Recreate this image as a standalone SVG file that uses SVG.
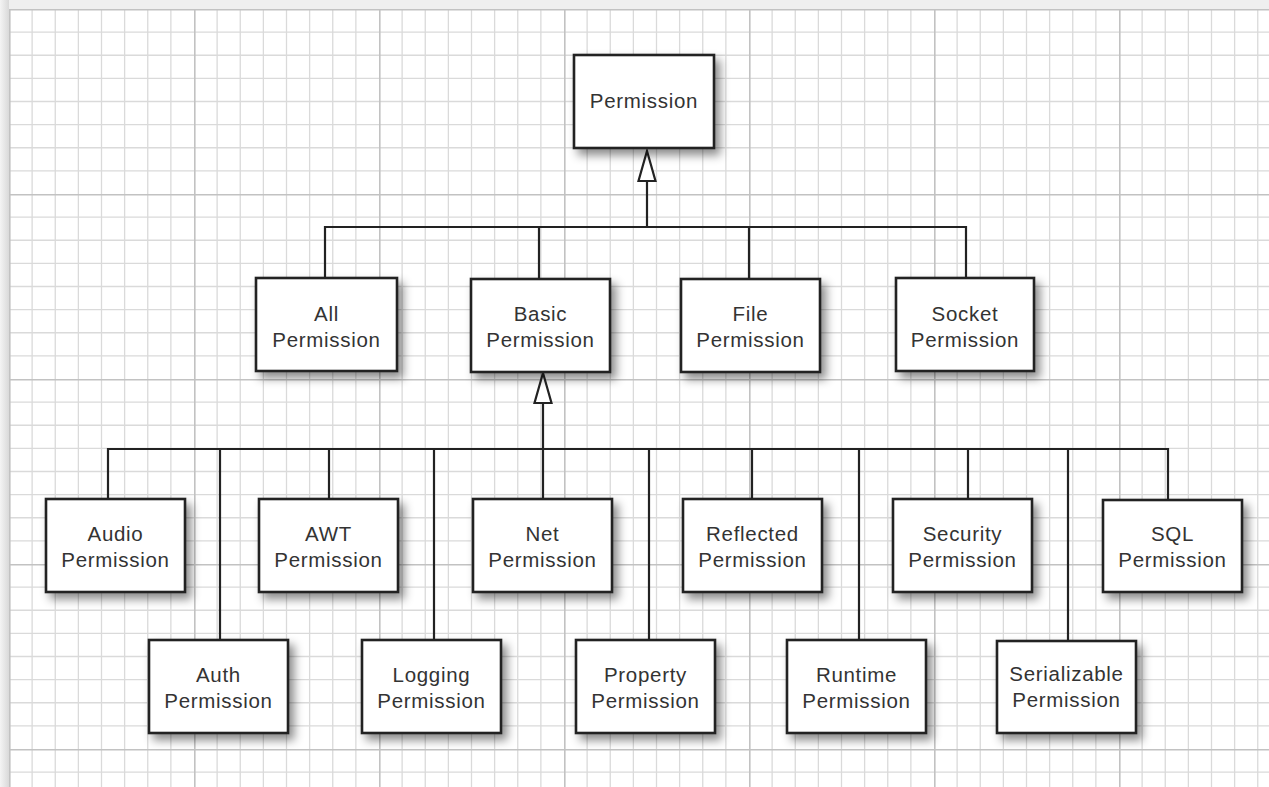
<svg xmlns="http://www.w3.org/2000/svg" width="1269" height="787" viewBox="0 0 1269 787">
<defs>
<pattern id="grid" x="9" y="9" width="185" height="185" patternUnits="userSpaceOnUse">
<path d="M23.125 0V185M46.25 0V185M69.375 0V185M92.5 0V185M115.625 0V185M138.75 0V185M161.875 0V185M0 23.125H185M0 46.25H185M0 69.375H185M0 92.5H185M0 115.625H185M0 138.75H185M0 161.875H185" stroke="#dadada" stroke-width="1.3" fill="none"/>
<path d="M0.7 0V185M0 0.7H185" stroke="#c2c2c2" stroke-width="1.8" fill="none"/>
</pattern>
<linearGradient id="lg" x1="0" y1="0" x2="1" y2="0">
<stop offset="0" stop-color="#f4f4f4"/><stop offset="1" stop-color="#d9d9d9"/>
</linearGradient>
<filter id="sh" x="-20%" y="-20%" width="150%" height="160%">
<feDropShadow dx="5" dy="6" stdDeviation="5" flood-color="#000" flood-opacity="0.45"/>
</filter>
</defs>
<style>
.box{fill:#fff;stroke:#222;stroke-width:2.6;filter:url(#sh)}
.t{font-family:"Liberation Sans",Arial,sans-serif;font-size:20.5px;fill:#333;text-anchor:middle;letter-spacing:0.7px}
.c{stroke:#222;stroke-width:2.2;fill:none}
.a{stroke:#222;stroke-width:2.2;fill:#fff;stroke-linejoin:miter}
</style>
<rect width="1269" height="787" fill="#efefef"/>
<rect x="0" y="0" width="9" height="787" fill="url(#lg)"/>
<rect x="9" y="9" width="1260" height="778" fill="#fff"/>
<rect x="9" y="9" width="1260" height="778" fill="url(#grid)"/>

<g id="connectors">
<path class="c" d="M647 181V227M325 278V227H966V278M539 227V279M749 227V279"/>
<path class="a" d="M647 151L655.5 181H638.5Z"/>
<path class="c" d="M543 403V499M108 499V449H1168V500M220 449V640M329 449V499M434 449V640M649 449V640M752 449V499M859 449V640M968 449V499M1068 449V641"/>
<path class="a" d="M543 373L551.5 403H534.5Z"/>
</g>

<g id="n-permission"><rect class="box" x="574" y="55" width="140" height="93"/><text class="t" x="644" y="108">Permission</text></g>

<g id="n-all"><rect class="box" x="256" y="278" width="141" height="93"/><text class="t" x="326.5" y="321">All</text><text class="t" x="326.5" y="347">Permission</text></g>
<g id="n-basic"><rect class="box" x="471" y="279" width="139" height="93"/><text class="t" x="540.5" y="321">Basic</text><text class="t" x="540.5" y="347">Permission</text></g>
<g id="n-file"><rect class="box" x="681" y="279" width="139" height="93"/><text class="t" x="750.5" y="321">File</text><text class="t" x="750.5" y="347">Permission</text></g>
<g id="n-socket"><rect class="box" x="896" y="278" width="138" height="93"/><text class="t" x="965" y="321">Socket</text><text class="t" x="965" y="347">Permission</text></g>

<g id="n-audio"><rect class="box" x="46" y="499" width="139" height="93"/><text class="t" x="115.5" y="541">Audio</text><text class="t" x="115.5" y="567">Permission</text></g>
<g id="n-awt"><rect class="box" x="259" y="499" width="139" height="93"/><text class="t" x="328.5" y="541">AWT</text><text class="t" x="328.5" y="567">Permission</text></g>
<g id="n-net"><rect class="box" x="473" y="499" width="139" height="93"/><text class="t" x="542.5" y="541">Net</text><text class="t" x="542.5" y="567">Permission</text></g>
<g id="n-reflected"><rect class="box" x="683" y="499" width="139" height="93"/><text class="t" x="752.5" y="541">Reflected</text><text class="t" x="752.5" y="567">Permission</text></g>
<g id="n-security"><rect class="box" x="893" y="499" width="139" height="93"/><text class="t" x="962.5" y="541">Security</text><text class="t" x="962.5" y="567">Permission</text></g>
<g id="n-sql"><rect class="box" x="1103" y="500" width="139" height="92"/><text class="t" x="1172.5" y="541">SQL</text><text class="t" x="1172.5" y="567">Permission</text></g>

<g id="n-auth"><rect class="box" x="149" y="640" width="139" height="93"/><text class="t" x="218.5" y="682">Auth</text><text class="t" x="218.5" y="708">Permission</text></g>
<g id="n-logging"><rect class="box" x="362" y="640" width="139" height="93"/><text class="t" x="431.5" y="682">Logging</text><text class="t" x="431.5" y="708">Permission</text></g>
<g id="n-property"><rect class="box" x="576" y="640" width="139" height="93"/><text class="t" x="645.5" y="682">Property</text><text class="t" x="645.5" y="708">Permission</text></g>
<g id="n-runtime"><rect class="box" x="787" y="640" width="139" height="93"/><text class="t" x="856.5" y="682">Runtime</text><text class="t" x="856.5" y="708">Permission</text></g>
<g id="n-serializable"><rect class="box" x="997" y="641" width="139" height="92"/><text class="t" x="1066.5" y="681">Serializable</text><text class="t" x="1066.5" y="707">Permission</text></g>
</svg>
